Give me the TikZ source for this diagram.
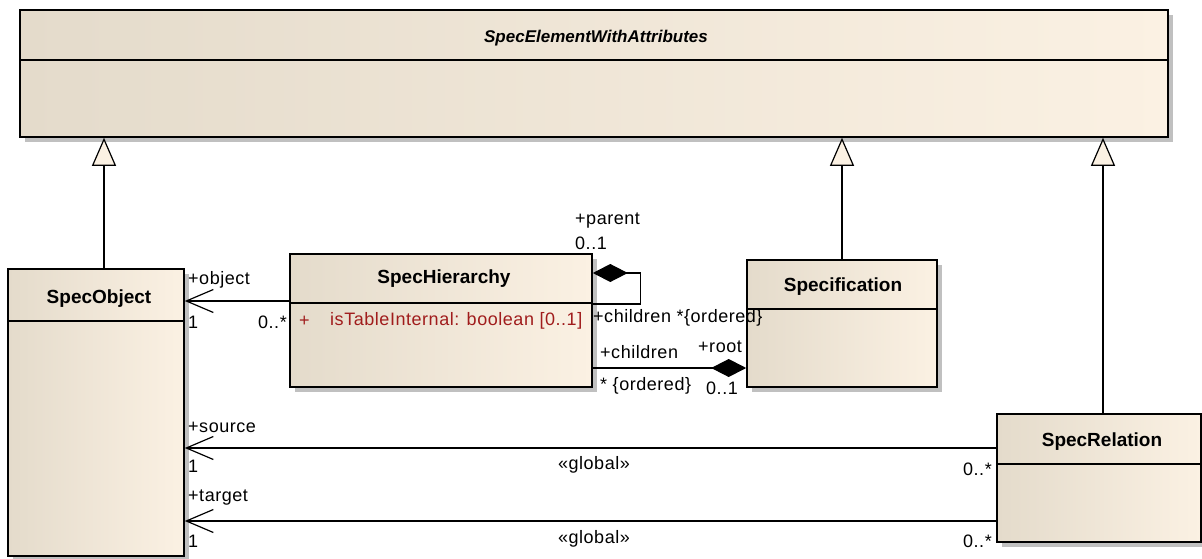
\documentclass[tikz,border=0pt]{standalone}
\usepackage{fontspec}
\setmainfont{Liberation Sans}
\newfontfamily\labelfont[LetterSpace=3]{Liberation Sans}
\usetikzlibrary{arrows.meta,shadows}

\definecolor{clsleft}{RGB}{228,219,203}
\definecolor{clsright}{RGB}{251,241,227}
\definecolor{attrred}{RGB}{160,28,28}
\definecolor{shadowgray}{RGB}{192,192,192}

\tikzset{
  umlclass/.style={draw, line width=1.6pt, left color=clsleft, right color=clsright, inner sep=0pt,
    drop shadow={shadow xshift=5pt, shadow yshift=-5pt, fill=shadowgray, opacity=1}},
  classname/.style={font=\fontsize{19}{22}\selectfont\bfseries},
  rolelabel/.style={font=\labelfont\fontsize{18}{20}\selectfont, inner sep=0pt},
  generalize/.style={line width=1.2pt, -{Triangle[open, length=28pt, width=24pt, fill=clsright]}},
  assoc/.style={line width=1.2pt, -{Straight Barb[length=27pt, width=23pt]}},
  compose/.style={line width=1.2pt, {Diamond[length=35pt, width=18pt]}-},
}

\begin{document}
\begin{tikzpicture}[x=1pt, y=-1pt]
\useasboundingbox (0,0) rectangle (1202,559);

% classes
\node[umlclass, minimum width=1148pt, minimum height=127pt] (swa) at (594,73.5) {};
\draw[line width=1.6pt] (swa.west |- 0,60) -- (swa.east |- 0,60);
\node[classname, font=\fontsize{17}{20}\selectfont\bfseries\itshape] (swatitle) at (596,38) {SpecElementWithAttributes};

\node[umlclass, minimum width=176pt, minimum height=287pt] (sobj) at (96,412.5) {};
\draw[line width=1.6pt] (sobj.west |- 0,321) -- (sobj.east |- 0,321);
\node[classname] (sobjtitle) at (99,299) {SpecObject};

\node[umlclass, minimum width=302pt, minimum height=133pt] (shier) at (441,320.5) {};
\draw[line width=1.6pt] (shier.west |- 0,303) -- (shier.east |- 0,303);
\node[classname] (shiertitle) at (444,279) {SpecHierarchy};
\node[rolelabel, text=attrred, anchor=west] (attrplus) at (299,321) {+};
\node[rolelabel, text=attrred, anchor=west] (attr) at (330,321) {isTableInternal: boolean [0..1]};

\node[umlclass, minimum width=190pt, minimum height=127pt] (spec) at (842,323.5) {};
\draw[line width=1.6pt] (spec.west |- 0,309) -- (spec.east |- 0,309);
\node[classname] (spectitle) at (843,287) {Specification};

\node[umlclass, minimum width=204pt, minimum height=128pt] (srel) at (1099,478) {};
\draw[line width=1.6pt] (srel.west |- 0,464) -- (srel.east |- 0,464);
\node[classname] (sreltitle) at (1102,442) {SpecRelation};

% generalizations
\draw[generalize] ([xshift=8pt]sobj.north) -- ([xshift=8pt]sobj.north |- swa.south);
\draw[generalize] (spec.north) -- (spec.north |- swa.south);
\draw[generalize] ([xshift=4pt]srel.north) -- ([xshift=4pt]srel.north |- swa.south);

% SpecHierarchy -> SpecObject
\coordinate (objend) at ([yshift=19.5pt]shier.west);
\draw[assoc] (objend) -- (objend -| sobj.east);
\node[rolelabel, anchor=west] (objrole) at (188,280) {+object};
\node[rolelabel, anchor=west] (objmult) at (188,322) {1};
\node[rolelabel, anchor=east] (hiermult) at (287,322) {0..*};

% SpecHierarchy self composition
\coordinate (loopstart) at ([yshift=47.5pt]shier.east);
\coordinate (loopend) at ([yshift=16.5pt]shier.east);
\draw[compose] (loopstart) -- ++(48,0) |- (loopend);
\node[rolelabel, anchor=west] (parentrole) at (575,221) {+parent};
\node[rolelabel, anchor=west] (parentmult) at (575,243) {0..1};
\node[rolelabel, anchor=west] (childrenrole) at (593,318) {+children *\{ordered\}};

% Specification root composition
\coordinate (rootend) at ([yshift=-47.5pt]shier.east);
\draw[compose] (rootend -| spec.west) -- (rootend);
\node[rolelabel, anchor=west] (rootchildren) at (600,352) {+children};
\node[rolelabel, anchor=west] (rootrole) at (698,347) {+root};
\node[rolelabel, anchor=west] (rootchildmult) at (600,386) {* \{ordered\}};
\node[rolelabel, anchor=west] (rootmult) at (706,388) {0..1};

% SpecRelation -> SpecObject
\coordinate (srcend) at ([yshift=30pt]srel.west);
\draw[assoc] (srcend) -- (srcend -| sobj.east);
\node[rolelabel, anchor=west] (srcrole) at (188,427) {+source};
\node[rolelabel, anchor=west] (srcmult) at (188,466) {1};
\node[rolelabel] (srcstereo) at (594,465) {«global»};
\node[rolelabel, anchor=east] (srcrelmult) at (992,469) {0..*};

\coordinate (tgtend) at ([yshift=-43pt]srel.west);
\draw[assoc] (tgtend) -- (tgtend -| sobj.east);
\node[rolelabel, anchor=west] (tgtrole) at (188,498) {+target};
\node[rolelabel, anchor=west] (tgtmult) at (188,541) {1};
\node[rolelabel] (tgtstereo) at (594,539) {«global»};
\node[rolelabel, anchor=east] (tgtrelmult) at (992,541) {0..*};
\end{tikzpicture}
\end{document}
